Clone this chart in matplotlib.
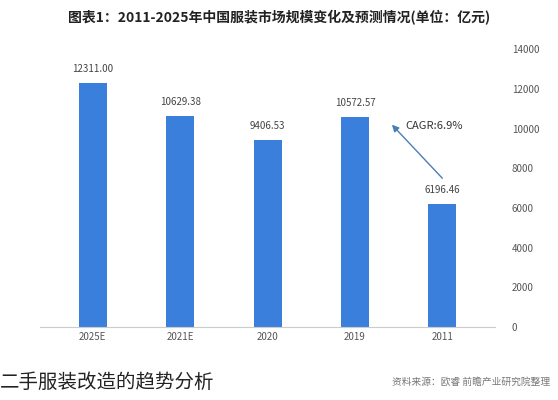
import matplotlib.pyplot as plt

plt.rcParams['font.family'] = ['Noto Sans CJK SC', 'DejaVu Sans']

years = ['2025E', '2021E', '2020', '2019', '2011']
values = [12311.00, 10629.38, 9406.53, 10572.57, 6196.46]
labels = ['12311.00', '10629.38', '9406.53', '10572.57', '6196.46']

fig = plt.figure(figsize=(5.58, 4.0), dpi=100)
ax = fig.add_axes([0.072, 0.182, 0.815, 0.695])

x = range(len(years))
ax.bar(x, values, width=0.32, color='#3b7fdc')
for i, v in enumerate(values):
    ax.text(i, v + 450, labels[i], ha='center', va='bottom', fontsize=7, color='#444444')

ax.set_ylim(0, 14000)
ax.set_xlim(-0.6, 4.6)
ax.set_xticks(list(x))
ax.set_xticklabels(years, fontsize=7, color='#555555')
ax.set_yticks(range(0, 14001, 2000))
ax.yaxis.tick_right()
ax.tick_params(axis='y', labelsize=7, colors='#555555', length=0, pad=12)
ax.tick_params(axis='x', length=0)
for s in ['top', 'left', 'right']:
    ax.spines[s].set_visible(False)
ax.spines['bottom'].set_color('#cccccc')

ax.annotate('', xy=(3.4, 10300), xytext=(4.02, 7400),
            arrowprops=dict(arrowstyle='-|>', color='#4a7fb5', lw=1))
ax.text(3.58, 10000, 'CAGR:6.9%', fontsize=8, color='#333333')

fig.text(0.5, 0.955, '图表1：2011-2025年中国服装市场规模变化及预测情况(单位：亿元)',
         ha='center', va='center', fontsize=10, fontweight='bold', color='#222222')
fig.text(0.0, 0.045, '二手服装改造的趋势分析', fontsize=14, color='#222222', va='center')
fig.text(0.985, 0.045, '资料来源：欧睿 前瞻产业研究院整理', fontsize=7, color='#777777',
         ha='right', va='center')

fig.savefig('out.png', dpi=100)
